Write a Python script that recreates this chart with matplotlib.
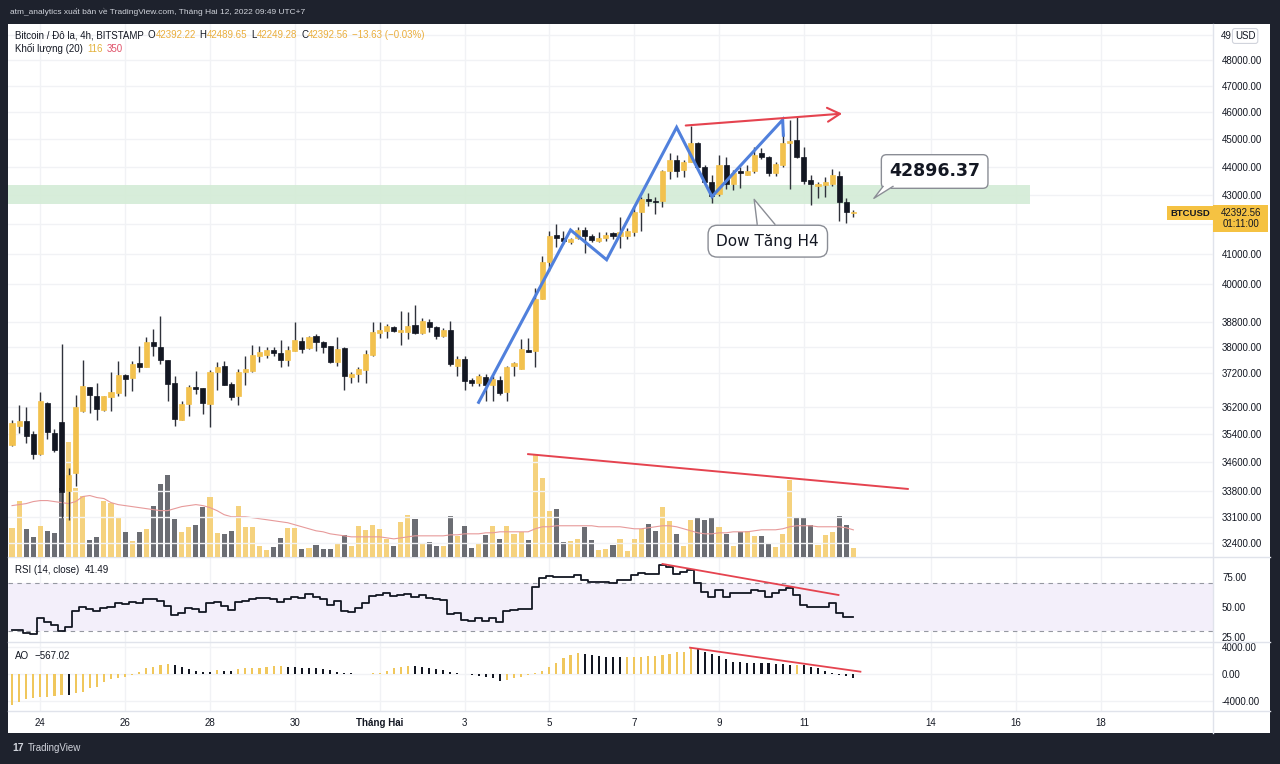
import matplotlib
matplotlib.use('Agg')
import matplotlib.pyplot as plt
import numpy as np
from matplotlib.patches import Rectangle, Polygon
from matplotlib.lines import Line2D
from matplotlib.ticker import NullLocator, NullFormatter

W, H = 1280, 764

# 4h candles, BTCUSD Bitstamp
opens = [35090, 35630, 35774, 35400, 34831, 36300, 35430, 35745, 33803, 34300,
         36065, 36773, 36506, 36094, 36477, 36595, 37162, 37042, 37525, 37404,
         38169, 38014, 37617, 36893, 35803, 36270, 36773, 36743, 36270, 37253,
         37434, 36863, 36506, 37253, 37283, 37739, 37770, 37922, 37830, 37617,
         37892, 38200, 37984, 38355, 38169, 38045, 37556, 37984, 37072, 37192,
         37313, 37770, 38448, 38510, 38635, 38479, 38479, 38698, 38448, 38792,
         38635, 38355, 38541, 37434, 37647, 36982, 36893, 37072, 36833, 36982,
         36625, 37434, 37343, 37922, 37892, 39521, 40723, 41624, 41522, 41388,
         41522, 41792, 41590, 41421, 41522, 41691, 41590, 41590, 41724, 42406,
         42854, 42785, 42785, 43872, 44265, 43908, 44194, 44879, 44015, 43449,
         43028, 44087, 43378, 43872, 43730, 43872, 44517, 44373, 43801, 44087,
         44879, 44988, 44373, 43519, 43308, 43343, 43378, 43659, 42750, 42392.22]
highs = [35800, 36241, 36182, 35486, 36625, 36330, 35543, 38107, 34438, 36536,
         37617, 36773, 36893, 36506, 37253, 37586, 37192, 37586, 38045, 38324,
         38573, 38980, 37617, 37132, 36359, 36833, 37283, 36743, 37313, 37556,
         37586, 36923, 37343, 37739, 38076, 38045, 38014, 38014, 38231, 38045,
         38792, 38324, 38355, 38417, 38200, 38045, 38324, 38014, 37253, 37404,
         37922, 38792, 38792, 38729, 38666, 39138, 39106, 39329, 38917, 38886,
         38666, 38604, 38823, 37739, 37739, 37042, 37192, 37192, 37102, 37132,
         37434, 37556, 38262, 38293, 39874, 40921, 41758, 41996, 41758, 41522,
         41894, 41894, 41657, 41724, 41724, 41724, 42234, 41860, 42612, 42923,
         43063, 42923, 43908, 44517, 44445, 44265, 45501, 44915, 44087, 43695,
         44445, 44373, 43908, 44015, 44087, 44733, 44697, 44409, 44194, 45244,
         45722, 45833, 44733, 43730, 43449, 43624, 43944, 43837, 42889, 42489.65]
lows = [35058, 35430, 35143, 34690, 34803, 35257, 34888, 33072, 33018, 33940,
        36036, 36007, 35803, 36065, 36065, 36506, 36506, 36654, 37253, 37404,
        37739, 37495, 36359, 35630, 35803, 35920, 36566, 35978, 35601, 36684,
        36833, 36389, 36241, 36833, 37223, 37556, 37678, 37739, 37404, 37434,
        37892, 37830, 37953, 37892, 37830, 37525, 37434, 36684, 36893, 36923,
        36893, 37739, 38293, 38293, 38479, 38076, 38262, 38417, 38417, 38479,
        38262, 38324, 37434, 37132, 36684, 36803, 36803, 36359, 36359, 36536,
        36359, 37132, 37343, 37861, 37404, 39521, 40428, 41221, 41321, 41321,
        41488, 41021, 41388, 41388, 41421, 41488, 41187, 41488, 41590, 41758,
        42612, 42337, 42578, 43554, 43624, 43624, 44194, 43979, 43413, 42715,
        42958, 43203, 43168, 43238, 43695, 43801, 44301, 43659, 43659, 44015,
        43203, 44337, 43378, 42646, 42889, 42923, 43308, 42098, 42030, 42249.28]
closes = [35716, 35774, 35342, 34831, 36359, 35458, 34944, 33776, 34244, 36182,
          36803, 36536, 36124, 36506, 36625, 37162, 37012, 37495, 37404, 38169,
          38045, 37617, 36863, 35832, 36270, 36773, 36713, 36300, 37253, 37404,
          36833, 36477, 37253, 37343, 37770, 37861, 37922, 37830, 37617, 37922,
          38231, 37953, 38324, 38169, 38014, 37556, 37953, 37102, 37192, 37343,
          37800, 38479, 38541, 38666, 38510, 38541, 38666, 38448, 38823, 38635,
          38355, 38541, 37495, 37647, 36952, 36893, 37102, 36833, 37012, 36595,
          37404, 37525, 37953, 37861, 39521, 40723, 41590, 41522, 41421, 41488,
          41792, 41590, 41455, 41522, 41624, 41590, 41724, 41758, 42406, 42854,
          42785, 42750, 43872, 44265, 43837, 44194, 44879, 44015, 43449, 42958,
          44087, 43378, 43801, 43801, 43872, 44445, 44373, 43801, 44122, 44879,
          44951, 44373, 43484, 43378, 43378, 43449, 43695, 42750, 42406, 42392.56]
volumes = [377, 728, 364, 260, 403, 338, 312, 884, 1482, 884,
           793, 221, 260, 728, 702, 507, 325, 208, 325, 364,
           663, 936, 1053, 494, 325, 390, 416, 650, 780, 312,
           299, 338, 663, 390, 390, 143, 91, 130, 247, 377,
           377, 104, 117, 156, 104, 104, 182, 286, 143, 403,
           351, 416, 364, 234, 143, 455, 546, 494, 182, 195,
           143, 143, 533, 273, 403, 117, 182, 286, 403, 234,
           403, 299, 325, 221, 1313, 1014, 598, 624, 195, 208,
           234, 390, 221, 91, 104, 156, 234, 78, 234, 364,
           429, 338, 650, 468, 299, 143, 481, 520, 481, 520,
           390, 299, 143, 325, 338, 273, 273, 169, 130, 299,
           988, 520, 520, 416, 156, 286, 325, 533, 416, 116]
vol_ma = [663, 676, 689, 715, 728, 728, 715, 702, 689, 715,
          780, 793, 767, 754, 702, 676, 663, 650, 637, 624,
          611, 598, 598, 624, 650, 663, 676, 663, 637, 598,
          546, 520, 520, 520, 507, 494, 481, 468, 455, 442,
          416, 390, 364, 338, 325, 299, 286, 273, 260, 260,
          260, 260, 260, 247, 234, 247, 260, 273, 273, 273,
          273, 273, 286, 286, 299, 299, 299, 312, 312, 325,
          325, 325, 325, 325, 364, 390, 390, 403, 403, 403,
          403, 403, 403, 390, 390, 390, 390, 377, 364, 364,
          377, 390, 403, 403, 390, 364, 338, 312, 299, 299,
          312, 312, 325, 325, 325, 338, 351, 351, 351, 364,
          390, 403, 403, 403, 390, 390, 390, 390, 377, 350]
rsi = [30.6, 30.3, 28.0, 27.2, 40.8, 37.5, 34.8, 30.0, 33.3, 46.7,
       49.5, 47.8, 46.5, 48.7, 50.0, 52.8, 52.2, 53.7, 53.3, 56.5,
       56.0, 54.5, 50.5, 43.1, 44.5, 48.7, 48.3, 45.8, 53.3, 53.8,
       50.5, 47.2, 54.2, 55.0, 56.6, 57.0, 57.5, 56.8, 54.2, 56.1,
       58.3, 57.5, 60.3, 57.8, 56.1, 51.4, 55.0, 46.4, 45.8, 48.7,
       52.8, 58.9, 60.0, 61.1, 58.9, 59.5, 60.3, 57.8, 59.8, 57.0,
       56.1, 55.2, 43.9, 45.0, 38.9, 38.3, 40.3, 38.3, 40.3, 37.5,
       46.4, 47.0, 47.8, 47.8, 66.7, 73.6, 75.6, 75.0, 75.0, 75.0,
       76.4, 72.2, 70.8, 70.8, 70.8, 70.0, 72.2, 72.2, 76.4, 78.3,
       77.0, 77.2, 84.7, 83.3, 77.2, 79.2, 80.6, 69.5, 62.5, 58.3,
       63.9, 58.3, 61.1, 61.1, 61.1, 63.9, 63.3, 58.3, 61.1, 63.9,
       65.3, 59.7, 51.4, 50.0, 50.0, 50.0, 52.8, 45.0, 41.7, 41.49]
ao = [-4650, -4150, -3800, -3550, -3400, -3380, -3250, -3100, -3200, -2900,
      -2650, -2150, -1900, -1150, -800, -650, -400, -150, 350, 850,
      1100, 1350, 1500, 1350, 1000, 700, 500, 350, 250, 600,
      500, 450, 700, 850, 900, 950, 1100, 1150, 1200, 1000,
      980, 960, 940, 850, 820, 600, 350, 200, 100, -20,
      -50, 100, 200, 500, 850, 1100, 1250, 1200, 1000, 850,
      700, 600, 350, 100, -50, -150, -300, -500, -650, -1000,
      -900, -650, -400, -150, 200, 500, 1100, 1600, 2350, 2850,
      3100, 3000, 2850, 2700, 2600, 2500, 2480, 2520, 2560, 2600,
      2650, 2700, 2800, 3000, 3250, 3350, 3850, 3750, 3350, 3000,
      2700, 2200, 1850, 1750, 1700, 1680, 1600, 1580, 1500, 1450,
      1350, 1420, 1300, 1100, 850, 500, 150, -100, -300, -567.02]

price_ticks = [49000, 48000, 47000, 46000, 45000, 44000, 43000, 42000, 41000, 40000,
               38800, 38000, 37200, 36200, 35400, 34600, 33800, 33100, 32400]
date_pos = [4, 16, 28, 40, 52, 64, 76, 88, 100, 112, 130, 142, 154]
date_labels = ['24', '26', '28', '30', 'Tháng Hai', '3', '5', '7', '9', '11', '14', '16', '18']

# drawings on the chart (bar index, price)
zigzag_x = [66.0, 79.0, 84.1, 94.0, 99.0, 109.0, 109.1]
zigzag_y = [36330, 41800, 40800, 45440, 42950, 45720, 45150]
zone_lo, zone_hi, zone_end = 42680, 43345, 144

YEL = '#f2c14e'
BLK = '#131722'
VYEL = '#f5d27e'
VGRY = '#6b6d73'
RED = '#e5434f'
GRID = '#f1f2f5'
TXT = '#131722'
ORG = '#eaae3c'

plt.rcParams['font.family'] = ['Liberation Sans', 'DejaVu Sans']

fig = plt.figure(figsize=(W / 100, H / 100), dpi=100, facecolor='#1e222d')
renderer = fig.canvas.get_renderer()


def rect(x0, y0, x1, y1):
    return [x0 / W, 1 - y1 / H, (x1 - x0) / W, (y1 - y0) / H]


def fp(x, y):
    return x / W, 1 - y / H


def text_row(x, y, pieces, size=7.0):
    # pieces: (text, colour, gap after in px)
    for s, c, gap in pieces:
        t = fig.text(*fp(x, y), s, color=c, fontsize=size, va='center')
        bb = t.get_window_extent(renderer)
        x = bb.x1 + gap


fig.add_artist(Rectangle(fp(8, 733), 1262 / W, 709 / H, transform=fig.transFigure,
                         fc='white', ec='none', zorder=-1))

n = len(closes)
idx = np.arange(n)
up = np.array(closes) >= np.array(opens)
xlim = (-0.57, 169.87)

# ---- price pane + volume
ax = fig.add_axes(rect(8, 24, 1213, 557))
ax_vol = ax.twinx()
ax.set_zorder(3)
ax_vol.set_zorder(2)
ax.patch.set_visible(False)
ax_vol.patch.set_visible(False)

ax.set_yscale('log')
ax.set_ylim(32034, 49427)
ax.set_xlim(*xlim)
ax_vol.set_ylim(0, 6876)

for p in date_pos:
    ax_vol.axvline(p, color=GRID, lw=1, zorder=0)
for t in price_ticks:
    ax.axhline(t, color=GRID, lw=1, zorder=0)

ax_vol.bar(idx, volumes, width=0.72, color=np.where(up, VYEL, VGRY), zorder=2)
ax_vol.plot(idx, vol_ma, color='#e79a9a', lw=0.8, zorder=3)

ax.fill_between([xlim[0], zone_end], zone_lo, zone_hi, color='#d3ecd6', alpha=0.9, lw=0, zorder=1)

ax.vlines(idx, lows, highs, color='#2f323b', lw=1, zorder=3)
body_lo = np.minimum(opens, closes)
body_h = np.maximum(np.abs(np.array(closes) - np.array(opens)), 8)
cols = np.where(up, YEL, BLK)
ax.bar(idx, body_h, bottom=body_lo, width=0.72, color=cols, edgecolor=cols, lw=0.5, zorder=4)

ax.plot(zigzag_x, zigzag_y, color='#5080dc', lw=2.2, zorder=6, solid_joinstyle='miter')
ax.annotate('', xy=(117.8, 45958), xytext=(94.9, 45501),
            arrowprops=dict(arrowstyle='->,head_length=0.9,head_width=0.5', color=RED, lw=1.5),
            zorder=6)
ax.plot([73.0, 126.7], [34831, 33858], color=RED, lw=1.4, zorder=6)

# callout "Dow Tăng H4"
ax.text(106.9, 41421, 'Dow Tăng H4', fontsize=11, color=TXT, ha='center', va='center', zorder=7,
        family=['DejaVu Sans'],
        bbox=dict(boxstyle='round,pad=0.55,rounding_size=0.6', fc='white', ec='#8a8d95', lw=1))
ax.add_patch(Polygon([[105.4, 41990], [104.97, 42854], [107.9, 41990]], closed=True,
                     fc='white', ec='none', zorder=8))
ax.plot([105.4, 104.97, 107.9], [41996, 42854, 41996], color='#8a8d95', lw=1, zorder=8)

# callout price
ax.text(130.5, 43837, '42896.37', fontsize=12.5, color=TXT, ha='center', va='center', zorder=7,
        family=['DejaVu Sans'], weight='semibold',
        bbox=dict(boxstyle='round,pad=0.45,rounding_size=0.3', fc='white', ec='#8a8d95', lw=1))
ax.add_patch(Polygon([[123.2, 43290], [121.9, 42889], [124.6, 43290]], closed=True,
                     fc='white', ec='none', zorder=8))
ax.plot([123.2, 121.9, 124.6], [43308, 42889, 43308], color='#8a8d95', lw=1, zorder=8)

ax.yaxis.tick_right()
ax.yaxis.set_minor_locator(NullLocator())
ax.yaxis.set_minor_formatter(NullFormatter())
ax.set_yticks(price_ticks)
# 42000 sits under the last-price label, 49000 under the currency label
ax.set_yticklabels(['' if t in (42000, 49000) else '%.2f' % t for t in price_ticks])
ax.tick_params(axis='y', length=0, pad=6.5, labelsize=7, labelcolor=TXT)
ax.set_xticks([])
ax_vol.set_yticks([])
ax_vol.set_xticks([])

# ---- RSI pane
ax_rsi = fig.add_axes(rect(8, 557, 1213, 642))
ax_rsi.set_xlim(*xlim)
ax_rsi.set_ylim(20.6, 91.4)
for p in date_pos:
    ax_rsi.axvline(p, color=GRID, lw=1, zorder=0)
ax_rsi.axhspan(30, 70, color='#f3effa', lw=0, zorder=0.5)
ax_rsi.axhline(70, color='#9598a1', lw=0.8, ls=(0, (4, 4)), zorder=1)
ax_rsi.axhline(30, color='#9598a1', lw=0.8, ls=(0, (4, 4)), zorder=1)
ax_rsi.step(idx, rsi, where='mid', color=BLK, lw=1.3, zorder=3)
ax_rsi.plot([92.0, 116.9], [85.6, 59.75], color=RED, lw=1.3, zorder=4)
ax_rsi.yaxis.tick_right()
ax_rsi.set_yticks([75, 50, 25])
ax_rsi.set_yticklabels(['75.00', '50.00', '25.00'])
ax_rsi.tick_params(axis='y', length=0, pad=6.5, labelsize=7, labelcolor=TXT)
ax_rsi.set_xticks([])
ax_rsi.patch.set_visible(False)

# ---- AO pane
ax_ao = fig.add_axes(rect(8, 642, 1213, 711))
ax_ao.set_xlim(*xlim)
ax_ao.set_ylim(-5550, 4800)
for p in date_pos:
    ax_ao.axvline(p, color=GRID, lw=1, zorder=0)
for t in [4000, 0, -4000]:
    ax_ao.axhline(t, color=GRID, lw=1, zorder=0)
ao_arr = np.array(ao)
ao_up = np.concatenate([[True], ao_arr[1:] > ao_arr[:-1]])
ax_ao.bar(idx, ao, width=0.3, color=np.where(ao_up, '#f0c75c', BLK), zorder=2)
ax_ao.plot([95.9, 120.0], [3950, 350], color=RED, lw=1.3, zorder=4)
ax_ao.yaxis.tick_right()
ax_ao.set_yticks([4000, 0, -4000])
ax_ao.set_yticklabels(['4000.00', '0.00', '-4000.00'])
ax_ao.tick_params(axis='y', length=0, pad=6.5, labelsize=7, labelcolor=TXT)
ax_ao.set_xticks(date_pos)
ax_ao.set_xticklabels(date_labels)
ax_ao.tick_params(axis='x', length=0, pad=5, labelsize=7, labelcolor=TXT)
for lab in ax_ao.get_xticklabels():
    if lab.get_text() == 'Tháng Hai':
        lab.set_fontweight('bold')
ax_ao.patch.set_visible(False)

for a in (ax, ax_vol, ax_rsi, ax_ao):
    for s in a.spines.values():
        s.set_visible(False)

# pane separators
for yy in (557, 642, 711):
    fig.add_artist(Line2D([8 / W, 1270 / W], [1 - yy / H] * 2, color='#e0e3eb', lw=1))
fig.add_artist(Line2D([1213 / W] * 2, [1 - 24 / H, 1 - 733 / H], color='#e0e3eb', lw=1))

# ---- texts
fig.text(*fp(10, 12), 'atm_analytics xuất bản về TradingView.com, Tháng Hai 12, 2022 09:49 UTC+7',
         color='#d1d4dc', fontsize=6.0, va='center')

text_row(15, 35, [('Bitcoin / Đô la, 4h, BITSTAMP', TXT, 4), ('O', TXT, 0), ('42392.22', ORG, 4),
                  ('H', TXT, 0), ('42489.65', ORG, 4), ('L', TXT, 0), ('42249.28', ORG, 4),
                  ('C', TXT, 0), ('42392.56', ORG, 4), ('−13.63 (−0.03%)', ORG, 0)])
text_row(15, 49, [('Khối lượng (20)', TXT, 4), ('116', '#e3b23c', 4), ('350', '#e0526a', 0)])
text_row(15, 570, [('RSI (14, close)', TXT, 6), ('41.49', TXT, 0)])
text_row(15, 656, [('AO', TXT, 5), ('−567.02', TXT, 0)])

# currency label sitting on the 49000 row
text_row(1221, 36, [('49', TXT, 3), ('USD', TXT, 0)])
fig.texts[-1].set_bbox(dict(boxstyle='round,pad=0.25', fc='white', ec='#d1d4dc', lw=0.8))

fig.text(*fp(1190, 213), 'BTCUSD', color=TXT, fontsize=6.8, ha='center', va='center', weight='bold',
         bbox=dict(boxstyle='square,pad=0.3', fc='#f5c242', ec='none'))
fig.add_artist(Rectangle(fp(1213, 232), 55 / W, 27 / H, transform=fig.transFigure,
                         fc='#f5c242', ec='none', zorder=4))
fig.text(*fp(1241, 218.5), '42392.56\n01:11:00', color=TXT, fontsize=7, ha='center', va='center',
         linespacing=1.15, zorder=5)

fig.text(*fp(12, 748), '17', color='#d1d4dc', fontsize=7.5, weight='heavy', va='center')
fig.text(*fp(28, 748), 'TradingView', color='#d1d4dc', fontsize=7, va='center')

fig.savefig('out.png', dpi=100, facecolor=fig.get_facecolor())
